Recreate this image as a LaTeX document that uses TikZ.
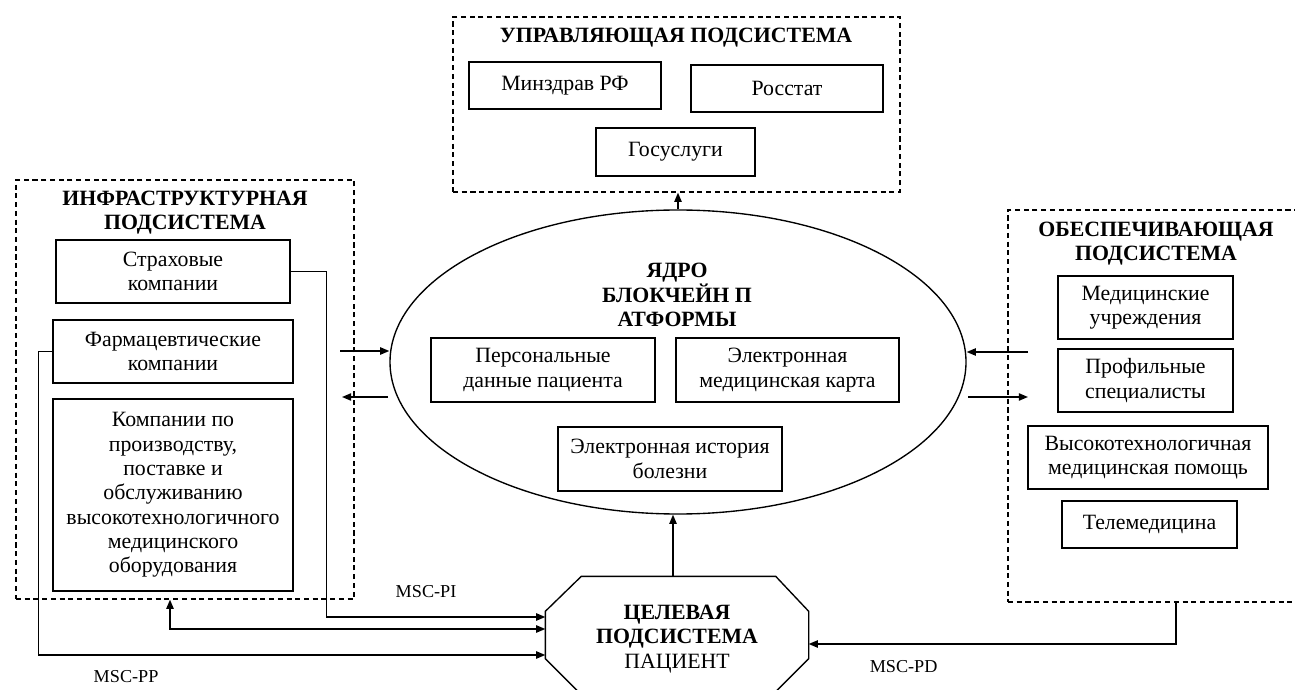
\documentclass[tikz,border=0pt]{standalone}
\usepackage{fontspec}
\setmainfont{Liberation Serif}
\usetikzlibrary{calc, arrows.meta, shapes.geometric}

\begin{document}
\begin{tikzpicture}[x=0.55pt, y=-0.55pt, line width=0.75pt,
      font=\fontsize{12}{13.4}\selectfont,
      box/.style  ={draw, align=center, inner sep=2pt, minimum width=132pt, minimum height=34.65pt},
      group/.style={draw, dash pattern=on 2.8pt off 2pt, inner sep=0pt},
      head/.style ={font=\fontsize{12}{13.4}\selectfont\bfseries, align=center},
      tag/.style  ={font=\fontsize{10}{12}\selectfont, anchor=west},
      >={Triangle[length=5pt, width=4pt]}
    ]
    \useasboundingbox (0,0) rectangle (1295,690);

    % Control subsystem (top)
    \node[group, minimum width=245.85pt, minimum height=96.25pt] (ctrl) at (676.5,104.5) {};
    \node[head] (ctrlT) at (676,38) {УПРАВЛЯЮЩАЯ ПОДСИСТЕМА};
    \node[box, minimum width=105.6pt, minimum height=25.85pt] (mzd)  at (565,85.5)  {Минздрав РФ};
    \node[box, minimum width=105.6pt, minimum height=25.85pt] (rst)  at (787,88.5)  {Росстат};
    \node[box, minimum width=87.45pt, minimum height=26.4pt]  (gos)  at (675.5,152) {Госуслуги};

    % Core: blockchain platform
    \node[draw, ellipse, inner sep=0pt, minimum width=316.8pt, minimum height=167.2pt] (core) at (678,362) {};
    \node[head] (coreT) at (677,295) {ЯДРО\\БЛОКЧЕЙН П\\АТФОРМЫ};
    \node[box, minimum width=123.2pt, minimum height=35.2pt] (pers) at (543,370)   {Персональные\\данные пациента};
    \node[box, minimum width=122.7pt, minimum height=35.2pt] (emk)  at (787.5,370) {Электронная\\медицинская карта};
    \node[box, minimum width=123.2pt, minimum height=35.2pt] (hist) at (670,459)   {Электронная история\\болезни};

    % Infrastructure subsystem (left)
    \node[group, minimum width=185.9pt, minimum height=230.45pt] (infra) at (185,389.5) {};
    \node[head] (infraT) at (185,212.5) {ИНФРАСТРУКТУРНАЯ\\ПОДСИСТЕМА};
    \node[box, minimum width=128.7pt] (ins)   at (173,271.5) {Страховые\\компании};
    \node[box]                        (pharm) at (173,351.5) {Фармацевтические\\компании};
    \node[box, minimum height=105.6pt] (equip) at (173,495)  {Компании по\\производству,\\поставке и\\обслуживанию\\высокотехнологичного\\медицинского\\оборудования};

    % Supporting subsystem (right)
    \node[group, minimum width=159.5pt, minimum height=215.6pt] (supp) at (1153,406) {};
    \node[head] (suppT) at (1156,243.5) {ОБЕСПЕЧИВАЮЩАЯ\\ПОДСИСТЕМА};
    \node[box, minimum width=96.25pt] (clin) at (1145.5,307.5) {Медицинские\\учреждения};
    \node[box, minimum width=96.25pt] (spec) at (1145.5,380.5) {Профильные\\специалисты};
    \node[box]                        (htmc) at (1148,457.5)   {Высокотехнологичная\\медицинская помощь};
    \node[box, minimum width=96.25pt, minimum height=25.85pt] (tele) at (1149.5,524.5) {Телемедицина};

    % Target subsystem: patient (octagon drawn on the node's corners)
    \node[inner sep=0pt, minimum width=144.1pt, minimum height=63.8pt] (pat) at (677,635) {};
    \draw ($(pat.north west)+(36,0)$) -- ($(pat.north east)+(-33,0)$) -- ($(pat.north east)+(0,35)$)
       -- ($(pat.south east)+(0,-35)$) -- ($(pat.south east)+(-35,0)$) -- ($(pat.south west)+(35,0)$)
       -- ($(pat.south west)+(0,-35)$) -- ($(pat.north west)+(0,35)$) -- cycle;
    \node[align=center] (patT) at (677,639) {\textbf{ЦЕЛЕВАЯ}\\\textbf{ПОДСИСТЕМА}\\ПАЦИЕНТ};

    % free ends of the short arrows at the core
    \coordinate (iIn)  at (340,351);
    \coordinate (iOut) at (388,397);
    \coordinate (sIn)  at (1028,352);
    \coordinate (sOut) at (968,397);

    \draw[->] (core.north) -- (core.north |- ctrl.south);
    \draw[->] ($(pat.north)+(-4,0)$) -- ($(core.south)+(-5,0)$);
    \draw[->] (iIn) -- (core.west |- iIn);
    \draw[->] (iOut) -- ++(-46,0);
    \draw[->] (sIn) -- (core.east |- sIn);
    \draw[->] (sOut) -- ++(60,0);

    \draw[->] (ins.east) -- ++(36,0) |- ($(pat.west)+(0,-18)$);
    \draw[<->] ($(infra.south)+(-15,0)$) |- ($(pat.west)+(0,-6)$);
    \draw[->] (pharm.west) -- ++(-14,0) |- ($(pat.west)+(0,20)$);
    \draw[->] ($(supp.south)+(23,0)$) |- ($(pat.east)+(0,9)$);

    \node[tag] (lPI) at (389,592) {MSC-PI};
    \node[tag] (lPP) at (87,677)  {MSC-PP};
    \node[tag] (lPD) at (863,667) {MSC-PD};
\end{tikzpicture}
\end{document}
